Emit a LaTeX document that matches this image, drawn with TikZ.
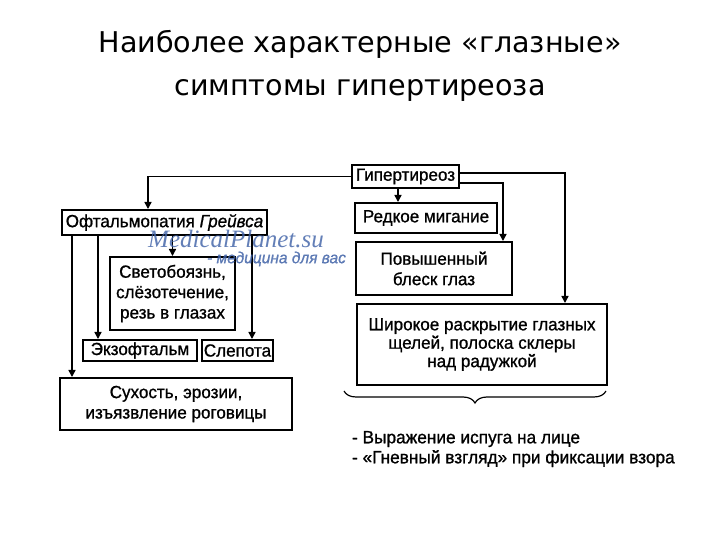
\documentclass[tikz,border=0pt]{standalone}
\usepackage{fontspec}
\setmainfont{Liberation Sans}[FakeBold=1,FakeStretch=0.97]
\newfontfamily\titlefont{DejaVu Sans}
\newfontfamily\markfont{Liberation Serif}
\usepackage{xcolor}
\usepackage{tikz}
\usetikzlibrary{arrows.meta,decorations.pathreplacing}
\definecolor{markblue}{RGB}{60,95,165}

\begin{document}
\begin{tikzpicture}[x=0.5pt,y=-0.5pt,font=\fontsize{8.8}{9.2}\selectfont,
  box/.style={draw,line width=1pt,align=center,inner sep=0pt},
  arr/.style={line width=0.8pt,-{Triangle[length=3.5pt,width=3.5pt]}},
  wmark/.style={text=markblue,opacity=0.8}]
\useasboundingbox (0,0) rectangle (720,540);
\node[font=\titlefont\fontsize{14.3}{21.5}\selectfont,align=center] (title) at (360,66) {Наиболее характерные «глазные»\\симптомы гипертиреоза};
\node[box,minimum width=53.5pt,minimum height=11.5pt] (hyper) at (405.5,176.5) {Гипертиреоз};
\node[box,minimum width=102.5pt,minimum height=12.5pt] (oft) at (164.5,222.5) {Офтальмопатия \textit{Грейвса}};
\node[box,minimum width=71pt,minimum height=15pt] (blink) at (426,218) {Редкое мигание};
\node[box,minimum width=78pt,minimum height=26.5pt] (shine) at (434,268.5) {Повышенный\\[1pt]блеск глаз};
\node[box,minimum width=125pt,minimum height=40.5pt] (wide) at (482,344.5) {Широкое раскрытие глазных\\щелей, полоска склеры\\над радужкой};
\node[box,minimum width=62.5pt,minimum height=36.5pt] (photo) at (172.5,293.5) {Светобоязнь,\\[1pt]слёзотечение,\\[1pt]резь в глазах};
\node[box,minimum width=57pt,minimum height=10.5pt] (exo) at (140,350.5) {Экзофтальм};
\node[box,minimum width=35.5pt,minimum height=10.5pt] (blind) at (237.5,350.5) {Слепота};
\node[box,minimum width=116pt,minimum height=26pt] (dry) at (176,404) {Сухость, эрозии,\\[1pt]изъязвление роговицы};
% hyperthyroidism branches
\draw[arr] (hyper.west) -| (oft.north -| 148,0);
\draw[arr] (hyper.south -| 398,0) -- (blink.north -| 398,0);
\draw[arr] ([yshift=-3.25pt]hyper.east) -| (shine.north -| 503,0);
\draw[arr] ([yshift=1.75pt]hyper.east) -| (wide.north -| 565,0);
% ophthalmopathy branches
\draw[arr] (oft.south -| photo.north) -- (photo.north);
\foreach \x/\t in {72/dry,98/exo,252/blind}
  \draw[arr] (oft.south -| \x,0) -- (\t.north -| \x,0);
\draw[line width=0.6pt,decorate,decoration={brace,mirror,amplitude=6pt}]
  ([xshift=-6pt,yshift=-2.5pt]wide.south west) -- ([xshift=-1pt,yshift=-2.5pt]wide.south east);
\node[anchor=north west,align=left,font=\fontsize{8.9}{10}\selectfont] (list) at ([xshift=-5.5pt,yshift=-19pt]wide.south west) {- Выражение испуга на лице\\- «Гневный взгляд» при фиксации взора};
% watermark
\node[wmark,font=\markfont\itshape\fontsize{12.5}{12.5}\selectfont] (mark) at (236,239) {MedicalPlanet.su};
\node[wmark,font=\itshape\fontsize{8}{8}\selectfont,anchor=east] (slogan) at (353,259) {- медицина для вас};
\end{tikzpicture}
\end{document}
